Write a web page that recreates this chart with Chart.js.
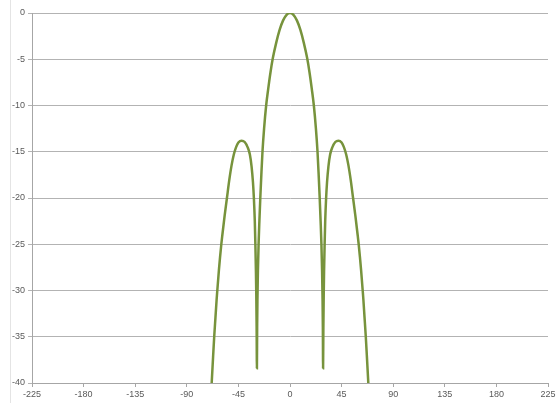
<!DOCTYPE html>
<html>
<head>
<meta charset="utf-8">
<script src="https://cdn.jsdelivr.net/npm/chart.js"></script>
<style>
  html, body { margin: 0; padding: 0; background: #ffffff; }
  #wrap { position: relative; width: 560px; height: 403px; }
  #edge { position: absolute; left: 10px; top: 0; width: 1px; height: 403px; background: #e4e4e4; }
</style>
</head>
<body>
<div id="wrap">
  <div id="edge"></div>
  <canvas id="pattern" width="560" height="403"></canvas>
</div>
<script>
// angle (deg) and gain (dB)
const angles = [
  -69.5, -68.3, -67, -66.1, -65, -64, -63.4, -62, -61, -59.9, -59, -57, -55, -53, -51, -49, -47, -45,
  -42.2, -39.5, -37, -35, -33.5, -32.3, -31.5, -30.7, -30.2, -29.7, -29.4, -29.1, -28.85,
  -28.65, -28.4, -28, -27.4, -26.7, -25.9, -25, -24, -22.6, -20.8, -19, -17, -15, -12, -9, -6, -3, 0,
  3, 6, 9, 12, 15, 17, 19, 20.8, 22.6, 24, 25, 25.9, 26.7, 27.4, 28, 28.4, 28.65,
  28.85, 29.1, 29.4, 29.7, 30.2, 30.7, 31.5, 32.3, 33.5, 35, 37, 39.5, 42.2,
  45, 47, 49, 51, 53, 55, 57, 59, 59.9, 61, 62, 63.4, 64, 65, 66.1, 67, 68.3, 69.5
];
const gainDb = [
  -43, -40, -37, -35, -32.9, -31, -30, -27.8, -26.4, -25, -24, -21.9, -20, -18.1, -16.5, -15.3, -14.5, -14.0,
  -13.8, -13.95, -14.5, -15.3, -16.6, -18.3, -20, -22.5, -25, -28, -30.5, -34, -38.4,
  -34, -31, -28, -25, -22.5, -20, -17.5, -15, -12.5, -10, -8.2, -6.4, -4.9, -3.2, -1.8, -0.8, -0.2, 0,
  -0.2, -0.8, -1.8, -3.2, -4.9, -6.4, -8.2, -10, -12.5, -15, -17.5, -20, -22.5, -25, -28, -31, -34,
  -38.4, -34, -30.5, -28, -25, -22.5, -20, -18.3, -16.6, -15.3, -14.5, -13.95, -13.8,
  -14.0, -14.5, -15.3, -16.5, -18.1, -20, -21.9, -24, -25, -26.4, -27.8, -30, -31, -32.9, -35, -37, -40, -43
];
const xTicks = [-225, -180, -135, -90, -45, 0, 45, 90, 135, 180, 225];
const yTicks = [0, -5, -10, -15, -20, -25, -30, -35, -40];

const points = angles.map((a, i) => ({ x: a, y: gainDb[i] }));
const tickFont = { family: "'Liberation Sans', 'DejaVu Sans', sans-serif", size: 9 };

new Chart(document.getElementById('pattern').getContext('2d'), {
  type: 'scatter',
  data: {
    datasets: [{
      data: points,
      showLine: true,
      borderColor: '#77933C',
      borderWidth: 2.5,
      pointRadius: 0,
      cubicInterpolationMode: 'monotone'
    }]
  },
  options: {
    responsive: false,
    animation: false,
    layout: { padding: { top: 13, right: 12, left: 0, bottom: 0 } },
    plugins: { legend: { display: false }, tooltip: { enabled: false } },
    scales: {
      x: {
        type: 'linear',
        min: xTicks[0],
        max: xTicks[xTicks.length - 1],
        afterBuildTicks: s => { s.ticks = xTicks.map(v => ({ value: v })); },
        afterFit: s => { s.height = 20; },
        grid: { drawOnChartArea: false, tickLength: 4, color: '#a6a6a6' },
        border: { color: '#a6a6a6' },
        ticks: { font: tickFont, color: '#595959', padding: 2, maxRotation: 0 }
      },
      y: {
        min: -40,
        max: 0,
        afterBuildTicks: s => { s.ticks = yTicks.map(v => ({ value: v })); },
        afterFit: s => { s.width = 32; },
        grid: { tickLength: 4, color: '#b3b3b3' },
        border: { color: '#a6a6a6' },
        ticks: { font: tickFont, color: '#595959', padding: 3 }
      }
    }
  }
});
</script>
</body>
</html>
